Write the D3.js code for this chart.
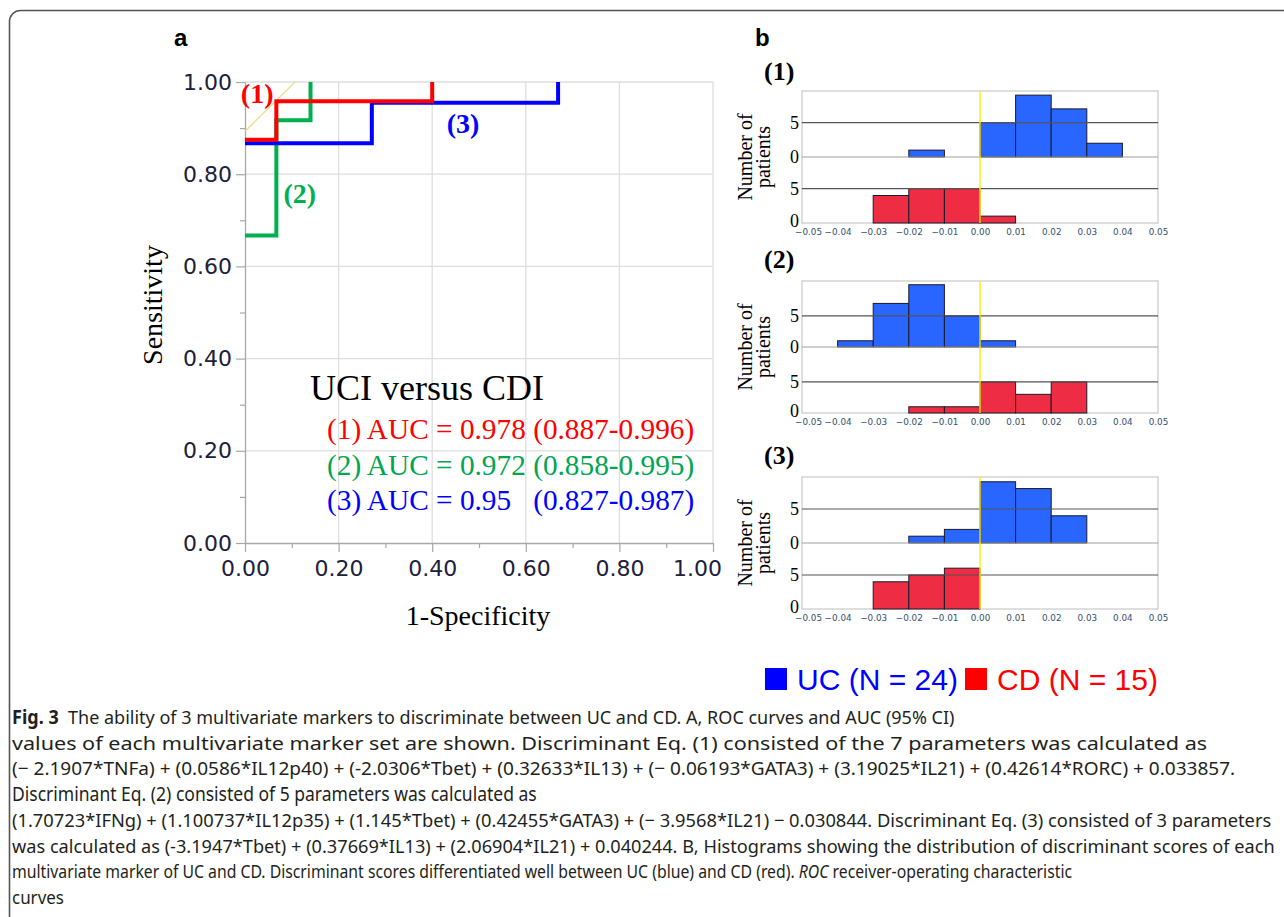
<!DOCTYPE html>
<html>
<head>
<meta charset="utf-8">
<script src="https://cdn.jsdelivr.net/npm/d3@7"></script>
<style>
  body { margin: 0; background: #fff; }
  svg { display: block; }
</style>
</head>
<body>
<svg id="fig" width="1284" height="917"></svg>
<script>
// ------------------------------------------------------------
// Data
// ------------------------------------------------------------
const rocTicks = [0, 0.2, 0.4, 0.6, 0.8, 1.0];
const rocMinorTicks = [0.1, 0.3, 0.5, 0.7, 0.9];
const rocNames = ["(1)", "(2)", "(3)"];
// [1-specificity, sensitivity] step points
const roc1 = [[0, 0.875], [0.067, 0.875], [0.067, 0.958], [0.40, 0.958], [0.40, 1]];
const roc2 = [[0, 0.667], [0.067, 0.667], [0.067, 0.917], [0.14, 0.917], [0.14, 1]];
const roc3 = [[0, 0.867], [0.271, 0.867], [0.271, 0.955], [0.669, 0.955], [0.669, 1]];
const refLine = [[0, 0.893], [0.107, 1]];
const aucTitle = "UCI versus CDI";
const aucLines = [
  "(1) AUC = 0.978 (0.887-0.996)",
  "(2) AUC = 0.972 (0.858-0.995)",
  "(3) AUC = 0.95   (0.827-0.987)"
];

// histogram bins (lower edges, width 0.01)
const binStarts = [-0.05, -0.04, -0.03, -0.02, -0.01, 0, 0.01, 0.02, 0.03, 0.04];
const ucCounts1 = [0, 0, 0, 1, 0, 5, 9, 7, 2, 0];
const cdCounts1 = [0, 0, 4, 5, 5, 1, 0, 0, 0, 0];
const ucCounts2 = [0, 1, 7, 10, 5, 1, 0, 0, 0, 0];
const cdCounts2 = [0, 0, 0, 1, 1, 5, 3, 5, 0, 0];
const ucCounts3 = [0, 0, 0, 1, 2, 9, 8, 4, 0, 0];
const cdCounts3 = [0, 0, 4, 5, 6, 0, 0, 0, 0, 0];
const histXTicks = [-0.05, -0.04, -0.03, -0.02, -0.01, 0, 0.01, 0.02, 0.03, 0.04, 0.05];
const histYTicks = [0, 5];
const histYMax = [9.6, 10.6, 9.7];

const legendLabels = ["UC (N = 24)", "CD (N = 15)"];

const captionLines = [
  [{ t: "Fig. 3", w: "bold" }, { t: "  The ability of 3 multivariate markers to discriminate between UC and CD. A, ROC curves and AUC (95% CI)" }],
  [{ t: "values of each multivariate marker set are shown. Discriminant Eq. (1) consisted of the 7 parameters was calculated as" }],
  [{ t: "(\u2212 2.1907*TNFa) + (0.0586*IL12p40) + (-2.0306*Tbet) + (0.32633*IL13) + (\u2212 0.06193*GATA3) + (3.19025*IL21) + (0.42614*RORC) + 0.033857." }],
  [{ t: "Discriminant Eq. (2) consisted of 5 parameters was calculated as" }],
  [{ t: "(1.70723*IFNg) + (1.100737*IL12p35) + (1.145*Tbet) + (0.42455*GATA3) + (\u2212 3.9568*IL21) \u2212 0.030844. Discriminant Eq. (3) consisted of 3 parameters" }],
  [{ t: "was calculated as (-3.1947*Tbet) + (0.37669*IL13) + (2.06904*IL21) + 0.040244. B, Histograms showing the distribution of discriminant scores of each" }],
  [{ t: "multivariate marker of UC and CD. Discriminant scores differentiated well between UC (blue) and CD (red). " }, { t: "ROC", s: "italic" }, { t: " receiver-operating characteristic" }],
  [{ t: "curves" }]
];

// ------------------------------------------------------------
// Layout / style
// ------------------------------------------------------------
const rocColors = ["#ff0000", "#00b050", "#0000ff"];
const aucColors = ["#ff0000", "#00a651", "#0000ff"];
const ucColor = "#2965ff";
const cdColor = "#ee2c44";
const serif = "'Liberation Serif', 'Times New Roman', serif";
const sans = "'Liberation Sans', Arial, sans-serif";
const rocLabelPos = [[0.026, 0.955], [0.117, 0.738], [0.466, 0.89]];
const histTops = [91, 281, 477];
const histHalf = 66;
const captionWidths = [943, 1196, 1224, 525, 1260, 1264, 1061, 52];

const svg = d3.select("#fig");

// outer frame (rounded top-left corner)
svg.append("rect")
  .attr("x", 9.5).attr("y", 10.5)
  .attr("width", 1400).attr("height", 1000)
  .attr("rx", 11)
  .attr("fill", "none")
  .attr("stroke", "#555")
  .attr("stroke-width", 1.6);

// panel letters
svg.append("text").attr("x", 174).attr("y", 46).text("a")
  .attr("font-family", sans).attr("font-weight", "bold").attr("font-size", 24);
svg.append("text").attr("x", 755).attr("y", 46).text("b")
  .attr("font-family", sans).attr("font-weight", "bold").attr("font-size", 24);

// ------------------------------------------------------------
// Panel a: ROC curves
// ------------------------------------------------------------
const x = d3.scaleLinear().domain([0, 1]).range([245, 713]);
const y = d3.scaleLinear().domain([0, 1]).range([543, 82]);
const gRoc = svg.append("g");

// grid
gRoc.selectAll(".vgrid").data(rocTicks.slice(1)).join("line")
  .attr("class", "vgrid")
  .attr("x1", d => x(d)).attr("x2", d => x(d))
  .attr("y1", y(0)).attr("y2", y(1))
  .attr("stroke", "#dedede").attr("stroke-width", 1.3);
gRoc.selectAll(".hgrid").data(rocTicks.slice(1)).join("line")
  .attr("class", "hgrid")
  .attr("x1", x(0)).attr("x2", x(1))
  .attr("y1", d => y(d)).attr("y2", d => y(d))
  .attr("stroke", "#dedede").attr("stroke-width", 1.3);

function styleRocAxis(g) {
  g.select(".domain").attr("stroke", "#a8a8a8").attr("stroke-width", 1.3);
  g.selectAll(".tick line").attr("stroke", "#a8a8a8").attr("stroke-width", 1.2);
  g.selectAll(".tick text")
    .attr("font-family", "'DejaVu Sans', Verdana, sans-serif")
    .attr("font-size", 22)
    .attr("fill", "#20203a");
}

// minor ticks
gRoc.append("g")
  .attr("transform", `translate(${x(0)},0)`)
  .call(d3.axisLeft(y).tickValues(rocMinorTicks).tickSize(5).tickFormat(""))
  .call(g => g.select(".domain").remove())
  .call(g => g.selectAll(".tick line").attr("stroke", "#a8a8a8").attr("stroke-width", 1.2));
gRoc.append("g")
  .attr("transform", `translate(0,${y(0)})`)
  .call(d3.axisBottom(x).tickValues(rocMinorTicks).tickSize(5).tickFormat(""))
  .call(g => g.select(".domain").remove())
  .call(g => g.selectAll(".tick line").attr("stroke", "#a8a8a8").attr("stroke-width", 1.2));

gRoc.append("g")
  .attr("transform", `translate(${x(0)},0)`)
  .call(d3.axisLeft(y).tickValues(rocTicks).tickFormat(d3.format(".2f")).tickSize(9).tickSizeOuter(0).tickPadding(4))
  .call(styleRocAxis);

const xAxisG = gRoc.append("g")
  .attr("transform", `translate(0,${y(0)})`)
  .call(d3.axisBottom(x).tickValues(rocTicks).tickFormat(d3.format(".2f")).tickSize(9).tickSizeOuter(0).tickPadding(8))
  .call(styleRocAxis);
// last label sits a little to the left in the original
xAxisG.selectAll(".tick text").filter(d => d === 1).attr("dx", -16);

// axis titles
gRoc.append("text")
  .attr("transform", "translate(162,305) rotate(-90)")
  .attr("text-anchor", "middle")
  .attr("font-family", serif).attr("font-size", 28)
  .text("Sensitivity");
gRoc.append("text")
  .attr("x", 478).attr("y", 625)
  .attr("text-anchor", "middle")
  .attr("font-family", serif).attr("font-size", 28)
  .text("1-Specificity");

// reference line
gRoc.append("path")
  .datum(refLine)
  .attr("d", d3.line().x(d => x(d[0])).y(d => y(d[1])))
  .attr("stroke", "#eedd88").attr("stroke-width", 1.3).attr("fill", "none");

// curves (green, blue, red drawing order)
const rocLine = d3.line().x(d => x(d[0])).y(d => y(d[1]));
const rocSeries = [roc1, roc2, roc3];
[1, 2, 0].forEach(i => {
  gRoc.append("path")
    .datum(rocSeries[i])
    .attr("d", rocLine)
    .attr("fill", "none")
    .attr("stroke", rocColors[i])
    .attr("stroke-width", 4)
    .attr("stroke-linejoin", "miter");
});

// curve labels
rocNames.forEach((name, i) => {
  gRoc.append("text")
    .attr("x", x(rocLabelPos[i][0]))
    .attr("y", y(rocLabelPos[i][1]))
    .attr("text-anchor", "middle")
    .attr("font-family", serif).attr("font-weight", "bold").attr("font-size", 28)
    .attr("fill", rocColors[i])
    .text(name);
});

// AUC block
gRoc.append("text")
  .attr("x", 310).attr("y", 400)
  .attr("font-family", serif).attr("font-size", 36)
  .attr("fill", "#000")
  .text(aucTitle);
aucLines.forEach((t, i) => {
  gRoc.append("text")
    .attr("x", 327).attr("y", 439 + i * 35.5)
    .attr("font-family", serif).attr("font-size", 29.3)
    .attr("fill", aucColors[i])
    .style("white-space", "pre")
    .text(t);
});

// ------------------------------------------------------------
// Panel b: histograms
// ------------------------------------------------------------
const xH = d3.scaleLinear().domain([-0.05, 0.05]).range([802, 1158]);
const histData = [
  [ucCounts1, cdCounts1],
  [ucCounts2, cdCounts2],
  [ucCounts3, cdCounts3]
];

histData.forEach(([uc, cd], p) => {
  const top = histTops[p];
  const g = svg.append("g");
  const yU = d3.scaleLinear().domain([0, histYMax[p]]).range([top + histHalf, top]);
  const yL = d3.scaleLinear().domain([0, histYMax[p]]).range([top + 2 * histHalf, top + histHalf]);

  // header
  g.append("text")
    .attr("x", 764).attr("y", top - 11 - (p > 0 ? 2 : 0))
    .attr("font-family", serif).attr("font-weight", "bold").attr("font-size", 26)
    .text(rocNames[p]);

  // frame
  g.append("rect")
    .attr("x", xH(-0.05)).attr("y", top)
    .attr("width", xH(0.05) - xH(-0.05)).attr("height", 2 * histHalf)
    .attr("fill", "#fff").attr("stroke", "#c8c8c8").attr("stroke-width", 1.2);

  // bars
  [[uc, yU, ucColor], [cd, yL, cdColor]].forEach(([counts, ys, col]) => {
    g.selectAll(null)
      .data(binStarts.map((b, i) => ({ b, c: counts[i] })).filter(d => d.c > 0))
      .join("rect")
      .attr("x", d => xH(d.b))
      .attr("width", d => xH(d.b + 0.01) - xH(d.b))
      .attr("y", d => ys(d.c))
      .attr("height", d => ys(0) - ys(d.c))
      .attr("fill", col)
      .attr("stroke", "#1a1a2a")
      .attr("stroke-width", 1);
  });

  // reference lines at 5 and 0
  [yU, yL].forEach((ys, k) => {
    g.append("line")
      .attr("x1", xH(-0.05)).attr("x2", xH(0.05))
      .attr("y1", ys(5)).attr("y2", ys(5))
      .attr("stroke", "#555").attr("stroke-width", 1.1);
    if (k === 0) {
      g.append("line")
        .attr("x1", xH(-0.05)).attr("x2", xH(0.05))
        .attr("y1", ys(0)).attr("y2", ys(0))
        .attr("stroke", "#a0a0a0").attr("stroke-width", 1.2);
    }
    g.selectAll(null).data(histYTicks).join("text")
      .attr("x", 799).attr("y", d => ys(d) + (d === 0 && k === 1 ? 4 : 6))
      .attr("text-anchor", "end")
      .attr("font-family", serif).attr("font-size", 18)
      .text(d => d);
  });

  // zero line
  g.append("line")
    .attr("x1", xH(0)).attr("x2", xH(0))
    .attr("y1", top).attr("y2", top + 2 * histHalf)
    .attr("stroke", "#ffee00").attr("stroke-width", 1.4);

  // x axis labels
  const ax = g.append("g")
    .attr("transform", `translate(0,${top + 2 * histHalf})`)
    .call(d3.axisBottom(xH).tickValues(histXTicks).tickFormat(d3.format(".2f")).tickSize(0).tickPadding(6))
    .call(a => a.select(".domain").remove())
    .call(a => a.selectAll(".tick text")
      .attr("font-family", "'DejaVu Sans', Tahoma, sans-serif")
      .attr("font-size", 8.8)
      .attr("fill", "#34506e"));
  // first label is nudged right of the frame corner in the original
  ax.selectAll(".tick text").filter(d => d === -0.05).attr("dx", 6);

  // y title
  const cy = top + histHalf;
  g.append("text")
    .attr("transform", `translate(752,${cy}) rotate(-90)`)
    .attr("text-anchor", "middle")
    .attr("font-family", serif).attr("font-size", 20)
    .text("Number of");
  g.append("text")
    .attr("transform", `translate(770,${cy}) rotate(-90)`)
    .attr("text-anchor", "middle")
    .attr("font-family", serif).attr("font-size", 20)
    .text("patients");
});

// legend
const legend = svg.append("g");
[[765, 797, "#0000ff"], [965, 997, "#ff0000"]].forEach(([sx, tx, col], i) => {
  legend.append("rect")
    .attr("x", sx).attr("y", 668).attr("width", 22).attr("height", 22)
    .attr("fill", col);
  legend.append("text")
    .attr("x", tx).attr("y", 690)
    .attr("font-family", sans).attr("font-size", 30)
    .attr("fill", col)
    .text(legendLabels[i]);
});

// ------------------------------------------------------------
// Caption (condensed face imitated by a horizontal scale)
// ------------------------------------------------------------
captionLines.forEach((parts, i) => {
  const g = svg.append("g");
  const t = g.append("text")
    .attr("x", 0).attr("y", 0)
    .attr("font-family", "'Noto Sans', 'Open Sans', sans-serif")
    .attr("font-size", 19)
    .attr("fill", "#231f20")
    .style("white-space", "pre");
  parts.forEach(pt => {
    t.append("tspan")
      .attr("font-weight", pt.w || "normal")
      .attr("font-style", pt.s || "normal")
      .text(pt.t);
  });
  const natural = t.node().getComputedTextLength();
  const k = natural > 0 ? captionWidths[i] / natural : 1;
  g.attr("transform", `translate(12,${724 + i * 25.7}) scale(${k},1)`);
});
</script>
</body>
</html>
